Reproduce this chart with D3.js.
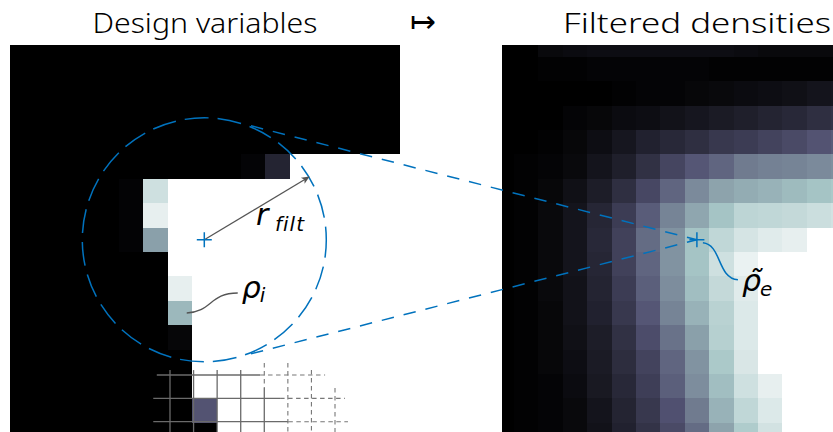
<!DOCTYPE html>
<html>
<head>
<meta charset="utf-8">
<script src="https://cdn.jsdelivr.net/npm/d3@7"></script>
<style>
  html, body { margin: 0; padding: 0; background: #fff; }
  svg { display: block; }
  .title { font-family: "Noto Sans", "DejaVu Sans", sans-serif; font-weight: 300; }
  .math  { font-family: "DejaVu Sans", "Noto Sans", sans-serif; font-style: italic; }
</style>
</head>
<body>
<svg id="fig" width="833" height="432"></svg>
<script>
// ---- data -------------------------------------------------------------
// Design variables (rows top to bottom, columns left to right), 0 = void, 1 = solid
const designRows = [
  [0,0,0,0,0,0,0,0,0,0,0,0,0,0,0,0,0],
  [0,0,0,0,0,0,0,0,0,0,0,0,0,0,0,0,0],
  [0,0,0,0,0,0,0,0,0,0,0,0,0,0,0,0,0],
  [0,0,0,0,0,0,0,0,0,0,0,0,0,0,0,0,0],
  [0,0,0,0,0,0,0,0,0,0,0,0,0,0,0,0,0],
  [0,0,0,0,0,0,0,0,0,0,0.02,0.16,1,1,1,1,1],
  [0,0,0,0,0,0.015,0.86,1,1,1,1,1,1,1,1,1,1],
  [0,0,0,0,0,0.015,0.93,1,1,1,1,1,1,1,1,1,1],
  [0,0,0,0,0,0.015,0.62,1,1,1,1,1,1,1,1,1,1],
  [0,0,0,0,0,0,0,1,1,1,1,1,1,1,1,1,1],
  [0,0,0,0,0,0,0,0.93,1,1,1,1,1,1,1,1,1],
  [0,0,0,0,0,0,0,0.7,1,1,1,1,1,1,1,1,1],
  [0,0,0,0,0,0,0,0.025,1,1,1,1,1,1,1,1,1],
  [0,0,0,0,0,0,0,0,1,1,1,1,1,1,1,1,1],
  [0,0,0,0,0,0,0,0,1,1,1,1,1,1,1,1,1],
  [0,0,0,0,0,0,0,0,0.37,1,1,1,1,1,1,1,1],
  [0,0,0,0,0,0,0,0,0,1,1,1,1,1,1,1,1]
];

// Filtered densities on the same element rows
const filteredRows = [
  [0,0,0.04,0.05,0.06,0.06,0.06,0.06,0.06,0.06,0.05,0.04,0.04,0.04,0.04],
  [0,0,0.01,0.01,0.02,0.02,0.02,0.02,0.02,0.01,0.01,0.01,0.01,0.01,0.01],
  [0,0,0,0,0,0.01,0.02,0.02,0.03,0.04,0.05,0.06,0.07,0.09,0.10],
  [0,0,0,0.02,0.03,0.05,0.06,0.08,0.10,0.12,0.14,0.16,0.18,0.21,0.23],
  [0,0,0.01,0.03,0.06,0.10,0.15,0.18,0.21,0.25,0.27,0.30,0.33,0.37,0.40],
  [0,0.01,0.02,0.04,0.09,0.14,0.22,0.31,0.38,0.43,0.50,0.52,0.53,0.55,0.57],
  [0,0.01,0.03,0.07,0.13,0.21,0.32,0.43,0.55,0.63,0.66,0.68,0.71,0.74,0.76],
  [0,0.01,0.04,0.09,0.17,0.27,0.40,0.53,0.64,0.74,0.81,0.82,0.83,0.85,0.87],
  [0,0.01,0.04,0.09,0.18,0.29,0.45,0.58,0.74,0.82,0.88,0.91,0.93,1,1],
  [0,0.01,0.04,0.09,0.17,0.29,0.43,0.58,0.74,0.86,0.94,1,1,1,1],
  [0,0.01,0.04,0.08,0.16,0.27,0.41,0.56,0.72,0.83,0.91,1,1,1,1],
  [0,0.01,0.03,0.08,0.15,0.25,0.38,0.53,0.68,0.80,0.90,1,1,1,1],
  [0,0.01,0.03,0.07,0.13,0.22,0.34,0.47,0.62,0.79,0.90,1,1,1,1],
  [0,0.01,0.03,0.06,0.12,0.20,0.30,0.43,0.58,0.76,0.89,1,1,1,1],
  [0,0.01,0.02,0.05,0.11,0.18,0.28,0.41,0.56,0.72,0.86,0.93,1,1,1],
  [0,0.01,0.02,0.04,0.09,0.16,0.25,0.36,0.50,0.68,0.82,0.90,1,1,1],
  [0,0.01,0.02,0.04,0.08,0.15,0.23,0.33,0.45,0.63,0.77,0.87,1,1,1]
];

const panelTitles = ["Design variables", "Filtered densities"];
const mapsToSymbol = "\u21A6";

const filterCell = { col: 8, row: 8 };   // element whose filtered value is shown
const filterRadius = 5;                   // in elements
const sampleCell = { col: 7, row: 11 };   // design variable rho_i inside the radius

// Mesh sketch at the bottom: line index -> extent [from, to] in mesh units
const meshRowsSolid  = [[0, -0.56, 3.82], [1, -0.71, 4.67], [2, -0.71, 5.02]];
const meshRowsDashed = [[0, 3.82, 6.58], [1, 4.67, 7.42], [2, 5.02, 7.55]];
const meshColsSolid  = [[0, -0.21, 2.8], [1, -0.21, 2.8], [2, -0.21, 2.8], [3, -0.21, 2.8], [4, 0.56, 2.8]];
const meshColsDashed = [[4, -0.51, 0.56], [5, -0.51, 2.8], [6, -0.21, 2.8], [7, 0.56, 2.8]];

// ---- colour map (matplotlib "bone") ------------------------------------
const boneR = d3.scaleLinear().domain([0, 0.746032, 1]).range([0, 0.652778, 1]);
const boneG = d3.scaleLinear().domain([0, 0.365079, 0.746032, 1]).range([0, 0.319444, 0.777778, 1]);
const boneB = d3.scaleLinear().domain([0, 0.365079, 1]).range([0, 0.444444, 1]);
const bone = v => d3.rgb(boneR(v) * 255, boneG(v) * 255, boneB(v) * 255).toString();

// ---- layout --------------------------------------------------------------
const CELL = 24.4;
const panelLeft  = { x0: 10,  x1: 400, y0: 45, y1: 460 };
const panelRight = { x0: 502, x1: 892, y0: 45, y1: 460 };

const yCell  = d3.scaleLinear().domain([0, 17]).range([32.4, 32.4 + 17 * CELL]);
const xLeft  = d3.scaleLinear().domain([0, 17]).range([-3.1, -3.1 + 17 * CELL]);
const xRight = d3.scaleLinear().domain([0, 17]).range([489.5, 489.5 + 17 * CELL]);

const meshX = d3.scaleLinear().domain([0, 7]).range([170, 335]);
const meshY = d3.scaleLinear().domain([0, 2]).range([375, 421.7]);

const BLUE = "#0072BD";
const GREY = "#555";

const svg = d3.select("#fig");
const defs = svg.append("defs");

[["clipL", panelLeft], ["clipR", panelRight]].forEach(([id, p]) => {
  defs.append("clipPath").attr("id", id)
    .append("rect").attr("x", p.x0).attr("y", p.y0)
    .attr("width", p.x1 - p.x0).attr("height", p.y1 - p.y0);
});

defs.append("marker")
  .attr("id", "tip").attr("viewBox", "0 0 10 10")
  .attr("refX", 9).attr("refY", 5)
  .attr("markerWidth", 9).attr("markerHeight", 8)
  .attr("markerUnits", "userSpaceOnUse")
  .attr("orient", "auto")
  .append("path").attr("d", "M0,0.5 L10,5 L0,9.5 L2.5,5 Z").attr("fill", GREY);

function flatten(rows) {
  const out = [];
  rows.forEach((row, r) => row.forEach((v, c) => out.push({ r, c, v })));
  return out;
}

function drawField(clipId, rows, xs) {
  const g = svg.append("g").attr("clip-path", `url(#${clipId})`);
  g.append("g").attr("shape-rendering", "crispEdges")
    .selectAll("rect").data(flatten(rows)).join("rect")
    .attr("x", d => xs(d.c))
    .attr("y", d => yCell(d.r))
    .attr("width", d => xs(d.c + 1) - xs(d.c) + 1)
    .attr("height", d => yCell(d.r + 1) - yCell(d.r) + 1)
    .attr("fill", d => bone(d.v));
  return g;
}

const gLeft = drawField("clipL", designRows, xLeft);
drawField("clipR", filteredRows, xRight);

// ---- mesh sketch over the design field ------------------------------------
const gMesh = gLeft.append("g").attr("fill", "none");
const hLine = sel => sel
  .attr("x1", d => meshX(d[1])).attr("x2", d => meshX(d[2]))
  .attr("y1", d => meshY(d[0])).attr("y2", d => meshY(d[0]));
const vLine = sel => sel
  .attr("x1", d => meshX(d[0])).attr("x2", d => meshX(d[0]))
  .attr("y1", d => meshY(d[1])).attr("y2", d => meshY(d[2]));

gMesh.selectAll("line.hs").data(meshRowsSolid).join("line").attr("class", "hs")
  .call(hLine).attr("stroke", "#6a6a6a").attr("stroke-width", 1.3);
gMesh.selectAll("line.vs").data(meshColsSolid).join("line").attr("class", "vs")
  .call(vLine).attr("stroke", "#6a6a6a").attr("stroke-width", 1.3);
gMesh.selectAll("line.hd").data(meshRowsDashed).join("line").attr("class", "hd")
  .call(hLine).attr("stroke", "#777").attr("stroke-width", 1.1).attr("stroke-dasharray", "4.5,3.5");
gMesh.selectAll("line.vd").data(meshColsDashed).join("line").attr("class", "vd")
  .call(vLine).attr("stroke", "#777").attr("stroke-width", 1.1).attr("stroke-dasharray", "4.5,3.5");

// ---- filter neighbourhood ------------------------------------------------
const cx = xLeft(filterCell.col + 0.5), cy = yCell(filterCell.row + 0.5);
const R = xLeft(filterRadius) - xLeft(0);
const px = xRight(filterCell.col + 0.5), py = yCell(filterCell.row + 0.5);

const over = svg.append("g");

over.append("circle")
  .attr("cx", cx).attr("cy", cy).attr("r", R)
  .attr("fill", "none").attr("stroke", BLUE).attr("stroke-width", 1.5)
  .attr("stroke-dasharray", "24,9").attr("stroke-dashoffset", 6);

// tangent lines from the filtered element to the neighbourhood circle
const dist = Math.hypot(px - cx, py - cy);
const alpha = Math.asin(R / dist);
const base = Math.atan2(py - cy, px - cx);
[-1, 1].forEach(s => {
  const th = base + s * (Math.PI / 2 - alpha);
  const tx = cx + R * Math.cos(th), ty = cy + R * Math.sin(th);
  const ux = (px - tx), uy = (py - ty), L = Math.hypot(ux, uy);
  const start = 17;
  over.append("line")
    .attr("x1", tx + ux / L * start).attr("y1", ty + uy / L * start)
    .attr("x2", px).attr("y2", py)
    .attr("stroke", BLUE).attr("stroke-width", 1.5)
    .attr("stroke-dasharray", "12.5,10");
});

// radius arrow
const ang = Math.atan2(-63, 105);
over.append("line")
  .attr("x1", cx).attr("y1", cy)
  .attr("x2", cx + R * Math.cos(ang)).attr("y2", cy + R * Math.sin(ang))
  .attr("stroke", GREY).attr("stroke-width", 1.3)
  .attr("marker-end", "url(#tip)");

// centre markers
function cross(x, y) {
  over.append("path")
    .attr("d", `M${x - 7.5},${y}H${x + 7.5}M${x},${y - 7.5}V${y + 7.5}`)
    .attr("stroke", BLUE).attr("stroke-width", 1.5).attr("fill", "none");
}
cross(cx, cy);
cross(px, py);

// leader lines
const sx = xLeft(sampleCell.col + 0.78), sy = yCell(sampleCell.row + 0.5);
over.append("path")
  .attr("d", `M${sx},${sy} C${sx + 25},${sy - 1} ${sx + 23},${sy - 20} ${sx + 51},${sy - 20}`)
  .attr("fill", "none").attr("stroke", GREY).attr("stroke-width", 1.3);

over.append("path")
  .attr("d", `M${px + 6},${py + 3} C${px + 25},${py + 5} ${px + 20},${py + 38} ${px + 41},${py + 40}`)
  .attr("fill", "none").attr("stroke", BLUE).attr("stroke-width", 1.5);

// ---- labels ---------------------------------------------------------------
const math = (x, y, size, txt) => svg.append("text")
  .attr("class", "math")
  .attr("x", x).attr("y", y)
  .attr("font-size", size).attr("fill", "#000").text(txt);

math(256, 225, 30, "r");
math(275, 231, 20, "filt").attr("letter-spacing", 1);

math(sx + 55, 298, 30, "\u03C1");
math(sx + 73, 302, 20, "i");

math(px + 45, 291, 30, "\u03C1\u0303");
math(px + 63, 296, 20, "e");

// titles
svg.append("text").attr("class", "title")
  .attr("x", (panelLeft.x0 + panelLeft.x1) / 2).attr("y", 33)
  .attr("text-anchor", "middle").attr("font-size", 28)
  .attr("textLength", 225).attr("lengthAdjust", "spacingAndGlyphs")
  .text(panelTitles[0]);
svg.append("text").attr("class", "title")
  .attr("x", (panelRight.x0 + panelRight.x1) / 2).attr("y", 33)
  .attr("text-anchor", "middle").attr("font-size", 28)
  .attr("textLength", 268).attr("lengthAdjust", "spacingAndGlyphs")
  .text(panelTitles[1]);
svg.append("text")
  .attr("x", 423).attr("y", 32)
  .attr("text-anchor", "middle")
  .attr("font-family", "DejaVu Sans, sans-serif").attr("font-size", 31)
  .attr("font-weight", 300)
  .text(mapsToSymbol);
</script>
</body>
</html>
